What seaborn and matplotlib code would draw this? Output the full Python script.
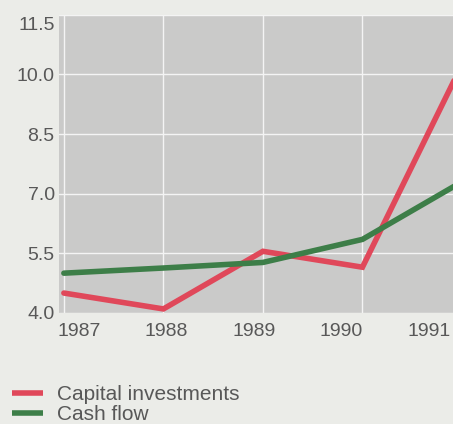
import matplotlib
matplotlib.use("Agg")
import matplotlib.pyplot as plt
from matplotlib.transforms import ScaledTranslation
import seaborn as sns
import pandas as pd

years = [1987, 1988, 1989, 1990, 1991]
capital_investments = [4.5, 4.1, 5.55, 5.15, 10.25]
cash_flow = [5.0, 5.13, 5.27, 5.85, 7.3]
y_ticks = [4.0, 5.5, 7.0, 8.5, 10.0, 11.5]
series_names = ["Capital investments", "Cash flow"]
series_colors = ["#e0485a", "#3d7e48"]

df = pd.DataFrame({
    "year": years * 2,
    "value": capital_investments + cash_flow,
    "series": [series_names[0]] * len(years) + [series_names[1]] * len(years),
})

page_bg = "#ebece8"
panel_bg = "#cacac9"
text_col = "#585858"

sns.set_theme(style="darkgrid", rc={
    "axes.facecolor": panel_bg,
    "figure.facecolor": page_bg,
    "grid.color": "#f4f4f4",
    "grid.linewidth": 1.0,
})
plt.rcParams["font.family"] = ["Liberation Sans", "DejaVu Sans"]

fig = plt.figure(figsize=(4.53, 4.24), dpi=100)
ax = fig.add_axes([0.130, 0.262, 0.870, 0.703])

sns.lineplot(data=df, x="year", y="value", hue="series",
             palette=dict(zip(series_names, series_colors)),
             linewidth=4.0, ax=ax, legend=False, solid_joinstyle="miter")

ax.set_xticks(years)
ax.set_yticks(y_ticks)
ax.set_yticklabels([f"{v:.1f}" for v in y_ticks])
# the last year runs just past the right edge of the panel
ax.set_xlim(1986.95, 1990.91)
ax.set_ylim(4.0, 11.5)
ax.set_xlabel("")
ax.set_ylabel("")
for s in ax.spines.values():
    s.set_visible(False)
ax.tick_params(axis="both", length=0, labelsize=14, colors=text_col)
ax.tick_params(axis="x", labelbottom=False)
ax.tick_params(axis="y", pad=3)

# top value label tucked below the panel edge
top_lbl = ax.get_yticklabels()[-1]
top_lbl.set_transform(top_lbl.get_transform()
                      + ScaledTranslation(0, -9 / 100, fig.dpi_scale_trans))

# year labels run on a slightly tighter, offset scale than the grid
LABEL_START, LABEL_STEP = 1987.15, 0.88


def to_label_scale(x):
    return 1987 + (x - LABEL_START) / LABEL_STEP


def from_label_scale(s):
    return LABEL_START + (s - 1987) * LABEL_STEP


sec = ax.secondary_xaxis("bottom", functions=(to_label_scale, from_label_scale))
sec.set_xticks(years)
sec.set_xticklabels([str(y) for y in years])
sec.tick_params(axis="x", length=0, pad=7, labelsize=14, colors=text_col)
sec.spines["bottom"].set_visible(False)
sec.grid(False)

handles = [plt.Line2D([], [], color=c, linewidth=4.0, solid_capstyle="butt")
           for c in series_colors]
leg = fig.legend(handles, series_names, loc="upper left",
                 bbox_to_anchor=(12 / 453, 0.092), frameon=False,
                 fontsize=15, labelcolor=text_col, handlelength=1.5,
                 handletextpad=0.67, labelspacing=0.05, borderaxespad=0,
                 borderpad=0)

fig.savefig("out.png", dpi=100, facecolor=page_bg)
